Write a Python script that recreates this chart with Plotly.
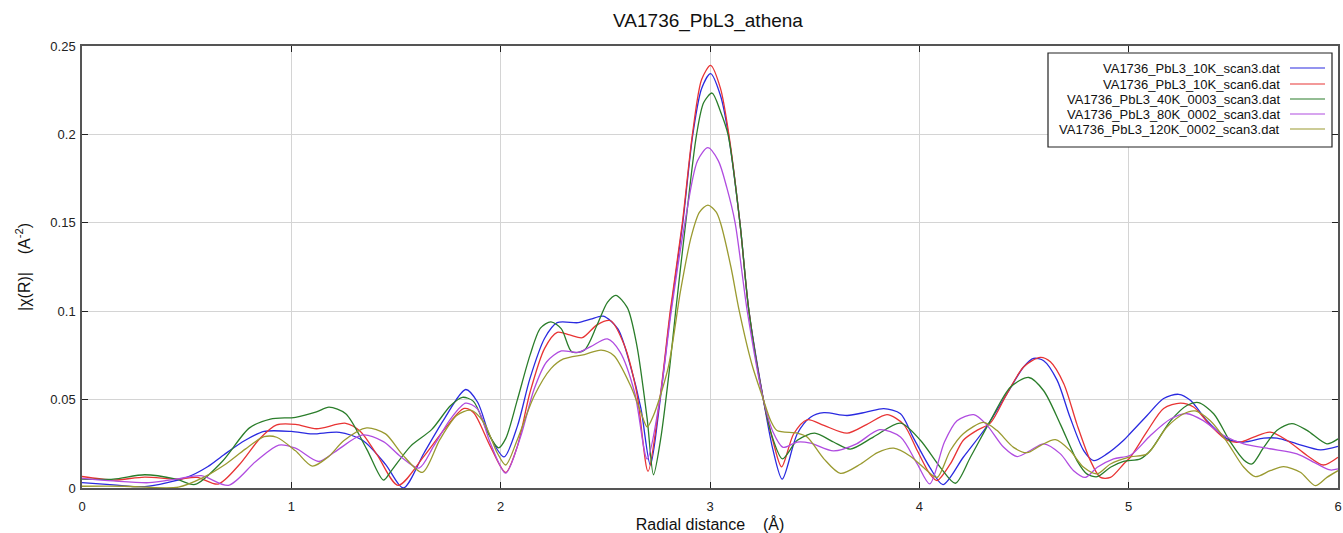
import plotly.graph_objects as go

title = "VA1736_PbL3_athena"
names = ["VA1736_PbL3_10K_scan3.dat", "VA1736_PbL3_10K_scan6.dat",
         "VA1736_PbL3_40K_0003_scan3.dat", "VA1736_PbL3_80K_0002_scan3.dat",
         "VA1736_PbL3_120K_0002_scan3.dat"]
colors = ["#2a2ae0", "#e83434", "#2a7d2a", "#b04ce0", "#9a9a30"]

blue_x = [0, 0.15, 0.3, 0.5, 0.6, 0.68, 0.78, 0.87, 1.0, 1.1, 1.23, 1.34, 1.45, 1.535, 1.634, 1.73, 1.833, 1.89, 1.95, 2.016, 2.08, 2.14, 2.21, 2.27, 2.37, 2.43, 2.49, 2.56, 2.62, 2.67, 2.715, 2.76, 2.81, 2.87, 2.918, 2.96, 3.003, 3.05, 3.088, 3.143, 3.186, 3.255, 3.30, 3.345, 3.417, 3.48, 3.544, 3.655, 3.75, 3.83, 3.91, 3.97, 4.05, 4.113, 4.21, 4.32, 4.419, 4.499, 4.546, 4.594, 4.658, 4.72, 4.785, 4.833, 4.896, 4.976, 5.008, 5.088, 5.167, 5.239, 5.295, 5.374, 5.47, 5.55, 5.645, 5.709, 5.804, 5.916, 6.0]
blue_y = [0.003, 0.0018, 0.0008, 0.006, 0.012, 0.019, 0.027, 0.032, 0.032, 0.0306, 0.0315, 0.027, 0.0134, 0.0, 0.0198, 0.039, 0.0557, 0.0485, 0.029, 0.0176, 0.035, 0.062, 0.0847, 0.0935, 0.0935, 0.0955, 0.0972, 0.090, 0.069, 0.045, 0.013, 0.048, 0.098, 0.15, 0.2, 0.226, 0.2344, 0.222, 0.2, 0.15, 0.1, 0.05, 0.022, 0.005, 0.0307, 0.040, 0.0426, 0.041, 0.043, 0.0449, 0.042, 0.0288, 0.0117, 0.0019, 0.0174, 0.0345, 0.0534, 0.0686, 0.0733, 0.072, 0.061, 0.040, 0.0212, 0.0155, 0.0193, 0.027, 0.031, 0.041, 0.0506, 0.053, 0.0496, 0.038, 0.0278, 0.026, 0.0282, 0.0282, 0.025, 0.0216, 0.0235]

red_x = [0, 0.15, 0.3, 0.45, 0.55, 0.65, 0.75, 0.85, 0.93, 1.02, 1.12, 1.26, 1.33, 1.41, 1.51, 1.634, 1.73, 1.825, 1.87, 1.95, 2.024, 2.08, 2.14, 2.21, 2.27, 2.33, 2.39, 2.46, 2.525, 2.59, 2.65, 2.704, 2.76, 2.81, 2.868, 2.916, 2.96, 3.003, 3.05, 3.09, 3.143, 3.186, 3.255, 3.30, 3.342, 3.40, 3.464, 3.544, 3.655, 3.75, 3.846, 3.925, 3.99, 4.05, 4.085, 4.148, 4.21, 4.275, 4.339, 4.419, 4.499, 4.578, 4.626, 4.69, 4.753, 4.817, 4.865, 4.913, 4.976, 5.008, 5.088, 5.167, 5.247, 5.31, 5.39, 5.47, 5.533, 5.597, 5.676, 5.756, 5.852, 5.93, 6.0]
red_y = [0.0065, 0.0045, 0.0062, 0.005, 0.006, 0.0022, 0.013, 0.028, 0.0357, 0.036, 0.0335, 0.0366, 0.032, 0.0187, 0.0015, 0.018, 0.033, 0.045, 0.0427, 0.0237, 0.0088, 0.0237, 0.054, 0.079, 0.088, 0.0866, 0.085, 0.0923, 0.0946, 0.081, 0.054, 0.0094, 0.05, 0.1, 0.15, 0.2, 0.231, 0.239, 0.226, 0.2, 0.15, 0.1, 0.05, 0.027, 0.012, 0.0307, 0.0386, 0.0354, 0.031, 0.036, 0.0415, 0.036, 0.0212, 0.008, 0.0042, 0.0136, 0.027, 0.0326, 0.0367, 0.0534, 0.0686, 0.0739, 0.0714, 0.059, 0.036, 0.0155, 0.006, 0.006, 0.0136, 0.0174, 0.032, 0.045, 0.048, 0.0458, 0.0354, 0.027, 0.026, 0.0288, 0.0316, 0.027, 0.0184, 0.013, 0.0174]

green_x = [0, 0.15, 0.3, 0.45, 0.54, 0.67, 0.8, 0.9, 1.02, 1.12, 1.18, 1.26, 1.36, 1.44, 1.475, 1.57, 1.67, 1.76, 1.817, 1.87, 1.94, 1.99, 2.024, 2.08, 2.14, 2.19, 2.24, 2.29, 2.34, 2.40, 2.46, 2.51, 2.55, 2.605, 2.65, 2.70, 2.73, 2.764, 2.81, 2.836, 2.884, 2.936, 2.97, 3.01, 3.05, 3.086, 3.143, 3.186, 3.255, 3.30, 3.346, 3.417, 3.50, 3.59, 3.67, 3.78, 3.91, 4.005, 4.10, 4.172, 4.244, 4.339, 4.435, 4.523, 4.594, 4.674, 4.753, 4.80, 4.85, 4.913, 4.976, 5.056, 5.104, 5.2, 5.28, 5.334, 5.406, 5.486, 5.55, 5.589, 5.645, 5.709, 5.78, 5.852, 5.947, 6.0]
green_y = [0.005, 0.005, 0.0075, 0.005, 0.002, 0.015, 0.034, 0.039, 0.040, 0.043, 0.0457, 0.042, 0.022, 0.0045, 0.0093, 0.0237, 0.033, 0.0465, 0.0513, 0.049, 0.031, 0.0227, 0.0279, 0.050, 0.075, 0.0904, 0.094, 0.090, 0.077, 0.078, 0.092, 0.105, 0.109, 0.102, 0.081, 0.039, 0.0075, 0.0275, 0.071, 0.1, 0.15, 0.2, 0.218, 0.2234, 0.213, 0.2, 0.15, 0.1, 0.05, 0.028, 0.0165, 0.027, 0.031, 0.026, 0.022, 0.0288, 0.0367, 0.027, 0.0117, 0.0027, 0.0174, 0.038, 0.057, 0.0625, 0.055, 0.036, 0.0155, 0.008, 0.0064, 0.0117, 0.015, 0.0165, 0.0212, 0.038, 0.0468, 0.0483, 0.042, 0.026, 0.0159, 0.0136, 0.023, 0.0326, 0.0364, 0.0326, 0.025, 0.0278]

purple_x = [0, 0.15, 0.32, 0.45, 0.57, 0.70, 0.83, 0.94, 1.02, 1.13, 1.21, 1.34, 1.44, 1.52, 1.61, 1.68, 1.76, 1.833, 1.89, 1.95, 2.024, 2.095, 2.16, 2.22, 2.29, 2.37, 2.43, 2.51, 2.57, 2.64, 2.70, 2.76, 2.815, 2.88, 2.94, 2.99, 3.04, 3.08, 3.12, 3.178, 3.255, 3.30, 3.349, 3.417, 3.48, 3.59, 3.70, 3.81, 3.91, 3.99, 4.05, 4.12, 4.18, 4.26, 4.32, 4.403, 4.467, 4.53, 4.594, 4.674, 4.737, 4.793, 4.85, 4.928, 5.008, 5.104, 5.2, 5.28, 5.358, 5.454, 5.55, 5.676, 5.804, 5.9, 5.963, 6.0]
purple_y = [0.0055, 0.004, 0.003, 0.005, 0.007, 0.0015, 0.015, 0.0243, 0.0225, 0.015, 0.0206, 0.030, 0.0262, 0.018, 0.0113, 0.0237, 0.039, 0.048, 0.0446, 0.0256, 0.0084, 0.029, 0.056, 0.0714, 0.0775, 0.0767, 0.080, 0.0843, 0.077, 0.054, 0.0164, 0.05, 0.1, 0.15, 0.185, 0.1925, 0.185, 0.17, 0.15, 0.1, 0.05, 0.032, 0.023, 0.026, 0.0254, 0.021, 0.025, 0.033, 0.0288, 0.0136, 0.0023, 0.026, 0.038, 0.0415, 0.036, 0.023, 0.0178, 0.0212, 0.025, 0.0193, 0.0098, 0.006, 0.0117, 0.0165, 0.0185, 0.0297, 0.039, 0.042, 0.038, 0.0297, 0.025, 0.0222, 0.0193, 0.0136, 0.0102, 0.0108]

olive_x = [0, 0.2, 0.46, 0.58, 0.68, 0.78, 0.87, 0.93, 1.02, 1.10, 1.18, 1.25, 1.36, 1.45, 1.53, 1.626, 1.71, 1.79, 1.857, 1.92, 1.984, 2.024, 2.08, 2.16, 2.24, 2.30, 2.40, 2.48, 2.54, 2.62, 2.67, 2.70, 2.73, 2.80, 2.86, 2.91, 2.95, 2.99, 3.03, 3.05, 3.10, 3.14, 3.20, 3.255, 3.29, 3.32, 3.417, 3.464, 3.544, 3.623, 3.72, 3.80, 3.878, 3.957, 4.037, 4.085, 4.148, 4.21, 4.307, 4.37, 4.45, 4.515, 4.578, 4.65, 4.72, 4.785, 4.85, 4.913, 5.008, 5.088, 5.183, 5.263, 5.318, 5.39, 5.47, 5.55, 5.605, 5.676, 5.74, 5.82, 5.892, 5.947, 6.0]
olive_y = [0.001, 0.001, 0.0005, 0.006, 0.013, 0.022, 0.029, 0.0287, 0.021, 0.0124, 0.018, 0.0267, 0.034, 0.0306, 0.019, 0.0088, 0.0275, 0.041, 0.044, 0.037, 0.0198, 0.013, 0.0275, 0.052, 0.0675, 0.073, 0.0755, 0.078, 0.075, 0.058, 0.0427, 0.0345, 0.041, 0.068, 0.112, 0.142, 0.156, 0.160, 0.156, 0.15, 0.125, 0.1, 0.07, 0.05, 0.038, 0.0325, 0.031, 0.0288, 0.0165, 0.0083, 0.0136, 0.020, 0.0225, 0.018, 0.0098, 0.006, 0.0212, 0.0307, 0.0371, 0.0326, 0.023, 0.020, 0.024, 0.0273, 0.0212, 0.0117, 0.008, 0.0136, 0.0176, 0.0193, 0.0345, 0.042, 0.0436, 0.038, 0.026, 0.0117, 0.0064, 0.0098, 0.0121, 0.0089, 0.0013, 0.006, 0.0098]

x_ticks = [0, 1, 2, 3, 4, 5, 6]
y_ticks = [0, 0.05, 0.1, 0.15, 0.2, 0.25]

series = [(blue_x, blue_y), (red_x, red_y), (green_x, green_y),
          (purple_x, purple_y), (olive_x, olive_y)]

fig = go.Figure()
for (xs, ys), nm, c in zip(series, names, colors):
    fig.add_trace(go.Scatter(x=xs, y=ys, mode="lines", name=nm,
                             line=dict(color=c, width=1.3, shape="spline", smoothing=0.8),
                             showlegend=False))

font = "Liberation Sans, Arial, sans-serif"
axis_common = dict(showline=True, linecolor="#555555", linewidth=1.5, mirror="ticks",
                   ticks="inside", ticklen=6, tickcolor="#222222", tickwidth=1,
                   showgrid=True, gridcolor="#d4d4d4", gridwidth=1, zeroline=False,
                   automargin=False, ticklabeloverflow="allow",
                   tickfont=dict(family=font, size=13, color="#222222"))

W, H = 1343, 533
fig.update_layout(
    width=W, height=H,
    margin=dict(l=82, r=5, t=46, b=45),
    paper_bgcolor="white", plot_bgcolor="white",
    title=dict(text=title, x=708 / W, xanchor="center", y=1 - 20 / H, yanchor="middle",
               font=dict(family=font, size=19, color="#111111")),
    xaxis=dict(range=[0, 6], tickvals=x_ticks, ticklabelstandoff=6,
               title=dict(text="Radial distance\u00a0\u00a0\u00a0\u00a0(Å)", standoff=8,
                          font=dict(family=font, size=16, color="#111111")),
               **axis_common),
    yaxis=dict(range=[0, 0.25], tickvals=y_ticks, ticklabelstandoff=2,
               title=dict(text="|χ(R)|\u00a0\u00a0\u00a0\u00a0(A<sup>-2</sup>)", standoff=16,
                          font=dict(family=font, size=16, color="#111111")),
               **axis_common),
)

# legend drawn as a boxed panel (text right-aligned, sample line on the right)
px0, px1, py0, py1 = 82.0, 1338.0, 46.0, 488.0
def xp(px):
    return (px - px0) / (px1 - px0)
def yp(py):
    return (py1 - py) / (py1 - py0)

shapes = [dict(type="rect", xref="paper", yref="paper", x0=xp(1048), x1=xp(1332),
               y0=yp(147), y1=yp(53), line=dict(color="#222222", width=1.2),
               fillcolor="white", layer="above")]
annotations = []
rows = [68, 84, 99, 114, 129]
for nm, c, ry in zip(names, colors, rows):
    shapes.append(dict(type="line", xref="paper", yref="paper", x0=xp(1290), x1=xp(1325),
                       y0=yp(ry), y1=yp(ry), line=dict(color=c, width=1.2), layer="above"))
    annotations.append(dict(text=nm, xref="paper", yref="paper", x=xp(1282), y=yp(ry),
                            xanchor="right", yanchor="middle", showarrow=False,
                            font=dict(family=font, size=13, color="#111111")))
fig.update_layout(shapes=shapes, annotations=annotations)

page_css = ("document.body.style.margin='0';"
            "document.body.style.overflow='hidden';"
            "document.documentElement.style.overflow='hidden';")
fig.write_html("out.html", post_script=page_css, config={"displayModeBar": False})
